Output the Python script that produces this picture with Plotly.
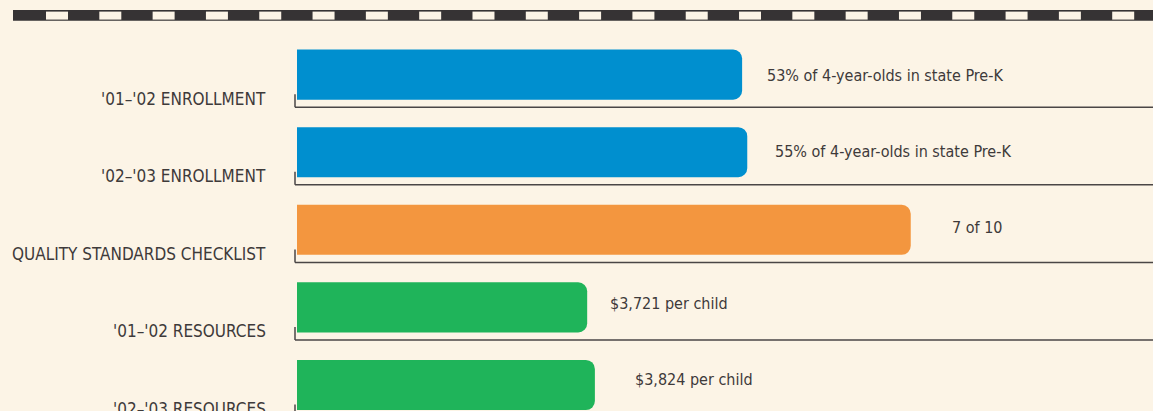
import plotly.graph_objects as go

# ---- data ----
categories = ["'01–'02 ENROLLMENT", "'02–'03 ENROLLMENT", "QUALITY STANDARDS CHECKLIST",
              "'01–'02 RESOURCES", "'02–'03 RESOURCES"]
# bar extents, in percent of the axis width
bar_values = [52.0, 52.6, 71.7, 33.9, 34.8]
value_labels = ["53% of 4-year-olds in state Pre-K", "55% of 4-year-olds in state Pre-K",
                "7 of 10", "$3,721 per child", "$3,824 per child"]
bar_colors = ["#008fcf", "#008fcf", "#f3963f", "#1fb45a", "#1fb45a"]

# ---- style ----
W, H = 1153, 411
BG = "#fcf4e6"
TXT = "#3e3a3a"
DARK = "#363334"
FONT = "Liberation Sans Narrow, DejaVu Sans Condensed, Roboto Condensed, Arial Narrow, sans-serif"
label_xshift = [23, 26, 39, 21, 38]
label_yshift = [-1, 1, 2, 4, 6]

idx = list(range(len(categories)))

fig = go.Figure()
fig.add_trace(go.Bar(
    x=bar_values, y=idx, orientation="h",
    marker=dict(color=bar_colors, line=dict(width=0), cornerradius=9),
    width=0.645, hoverinfo="skip",
))

shapes = []
# top dashed band
shapes.append(dict(type="rect", xref="paper", yref="paper",
                   x0=13 / W, x1=1.0, y0=1 - 20.7 / H, y1=1 - 10 / H,
                   fillcolor=DARK, line=dict(width=0), layer="above"))
k = 0
while 46 + 53.31 * k < W:
    x0 = 46 + 53.31 * k
    shapes.append(dict(type="rect", xref="paper", yref="paper",
                       x0=x0 / W, x1=min(x0 + 22, W) / W, y0=1 - 19.6 / H, y1=1 - 11.6 / H,
                       fillcolor=BG, line=dict(width=0), layer="above"))
    k += 1

# baselines with small left ticks
for i in idx:
    yb = i + 0.42
    shapes.append(dict(type="line", xref="paper", yref="y", x0=295 / W, x1=1.0, y0=yb, y1=yb,
                       line=dict(color="#4a4646", width=1.5)))
    shapes.append(dict(type="line", xref="paper", yref="y", x0=295 / W, x1=295 / W,
                       y0=yb, y1=yb - 13 / 77.6, line=dict(color="#4a4646", width=1.5)))

annotations = []
for i in idx:
    annotations.append(dict(xref="paper", yref="y", x=268 / W, y=i, xanchor="right", yanchor="middle",
                            yshift=-24, text=categories[i], showarrow=False,
                            font=dict(family=FONT, size=17, color=TXT)))
    annotations.append(dict(xref="x", yref="y", x=bar_values[i], y=i, xanchor="left", yanchor="middle",
                            xshift=label_xshift[i], yshift=label_yshift[i], text=value_labels[i],
                            showarrow=False, font=dict(family=FONT, size=16, color=TXT)))

fig.update_layout(
    width=W, height=H, margin=dict(l=0, r=0, t=0, b=0),
    paper_bgcolor=BG, plot_bgcolor=BG, showlegend=False,
    xaxis=dict(domain=[297 / W, 1.0], range=[0, 100], visible=False, fixedrange=True),
    yaxis=dict(domain=[0, 1], range=[(H - 74.6) / 77.6, -74.6 / 77.6], visible=False, fixedrange=True),
    shapes=shapes, annotations=annotations,
)

fig.write_html("out.html", config={"displayModeBar": False},
               post_script="document.body.style.margin='0px';document.body.style.background='%s';" % BG)
